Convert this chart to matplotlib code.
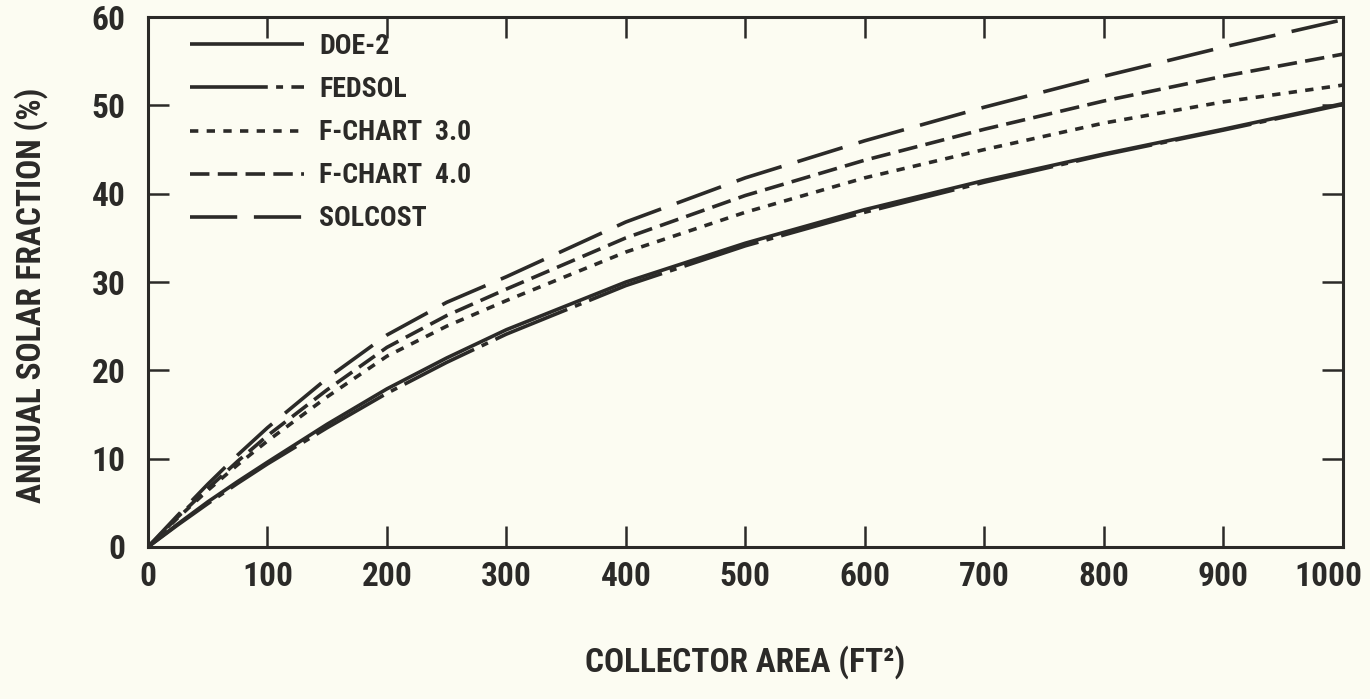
import numpy as np
import matplotlib

matplotlib.use("Agg")
import matplotlib.pyplot as plt
from matplotlib.transforms import ScaledTranslation

# narrow bold face first, whatever of these is on the system gets used
plt.rcParams["font.family"] = ["Roboto Condensed", "DejaVu Sans Condensed", "Liberation Sans Narrow",
                               "Open Sans Condensed", "DejaVu Sans"]
plt.rcParams["font.stretch"] = "condensed"
plt.rcParams["font.weight"] = "bold"
plt.rcParams["axes.labelweight"] = "bold"
plt.rcParams["lines.scale_dashes"] = False

# Collector area (ft^2) and annual solar fraction (%) for each simulation program
area = [0, 25, 50, 75, 100, 150, 200, 250, 300, 400, 500, 600, 700, 800, 900, 1000]
doe2 = [0, 2.6, 5.1, 7.4, 9.6, 13.9, 17.9, 21.4, 24.6, 30.0, 34.4, 38.2, 41.5, 44.5, 47.3, 50.2]
fedsol = [0, 2.5, 4.9, 7.2, 9.4, 13.5, 17.4, 20.9, 24.1, 29.6, 34.1, 37.9, 41.3, 44.4, 47.2, 50.1]
fchart3 = [0, 3.3, 6.4, 9.3, 12.0, 17.0, 21.6, 25.0, 27.9, 33.4, 37.9, 41.8, 45.0, 48.0, 50.4, 52.3]
fchart4 = [0, 3.4, 6.6, 9.7, 12.6, 17.8, 22.6, 26.2, 29.2, 35.0, 39.8, 43.8, 47.3, 50.5, 53.3, 55.8]
solcost = [0, 3.6, 7.1, 10.4, 13.5, 19.1, 24.0, 27.7, 30.6, 36.8, 41.8, 46.0, 49.8, 53.3, 56.6, 59.7]

labels = ["DOE-2", "FEDSOL", "F-CHART  3.0", "F-CHART  4.0", "SOLCOST"]
styles = ["-", (0, (56, 6, 5, 6)), (0, (6, 6)), (0, (14, 6)), (0, (34, 12))]

ink = "#2b2a28"
paper = "#fcfcf2"

fig = plt.figure(figsize=(13.7, 6.99), dpi=100, facecolor=paper)
ax = fig.add_axes([0.108, 0.2175, 0.872, 0.758], facecolor=paper)

for ys, lab, ls in zip([doe2, fedsol, fchart3, fchart4, solcost], labels, styles):
    ax.plot(area, ys, color=ink, lw=2.6, ls=ls, label=lab, solid_capstyle="butt")

ax.set_xlim(0, 1000)
ax.set_ylim(0, 60)
ax.set_xticks(np.arange(0, 1001, 100))
ax.set_yticks(np.arange(0, 61, 10))
ax.tick_params(direction="in", length=15, width=1.8, colors=ink, labelsize=24,
               top=True, right=True)
ax.tick_params(axis="x", pad=10)
ax.tick_params(axis="y", pad=16)
for s in ax.spines.values():
    s.set_linewidth(2.2)
    s.set_color(ink)

# last area label sits a little inside the right edge
last = ax.get_xticklabels()[-1]
last.set_transform(last.get_transform() + ScaledTranslation(-14 / 100, 0, fig.dpi_scale_trans))

ax.set_xlabel("COLLECTOR AREA (FT²)", fontsize=24, color=ink)
ax.set_ylabel("ANNUAL SOLAR FRACTION (%)", fontsize=24, color=ink)
ax.xaxis.set_label_coords(0.5, -0.185)
ax.yaxis.set_label_coords(-0.0837, 0.475)

leg = ax.legend(loc="upper left", frameon=False, fontsize=20, handlelength=4.1,
                handletextpad=0.55, labelspacing=0.58, borderpad=0, borderaxespad=0,
                bbox_to_anchor=(0.035, 0.97))
for t in leg.get_texts():
    t.set_color(ink)

fig.savefig("out.png", dpi=100, facecolor=paper)
